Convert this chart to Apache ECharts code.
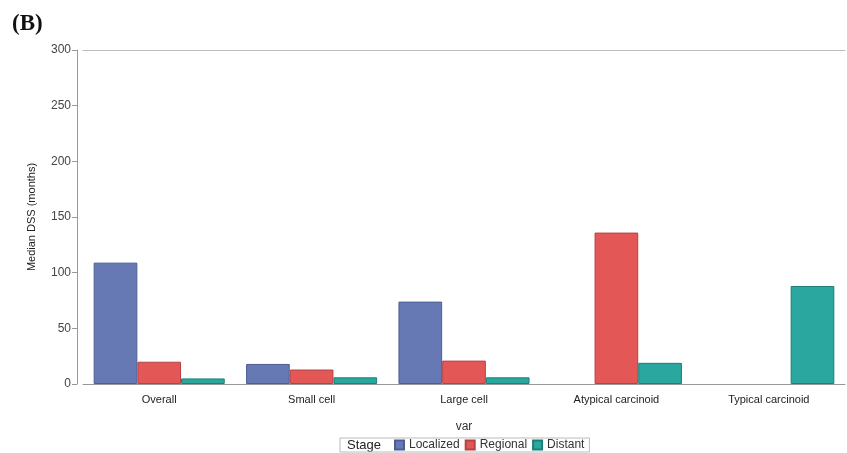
<!DOCTYPE html>
<html>
<head>
<meta charset="utf-8">
<script src="https://cdn.jsdelivr.net/npm/echarts@6/dist/echarts.min.js"></script>
<style>
  html, body { margin: 0; padding: 0; background: #fff; }
  #chart { width: 847px; height: 453px; }
</style>
</head>
<body>
<div id="chart"></div>
<script>
// categories and median DSS values (months)
const categories = ['Overall', 'Small cell', 'Large cell', 'Atypical carcinoid', 'Typical carcinoid']
const localized = [109, 18, 74, null, null]
const regional = [20, 13, 21, 136, null]
const distant = [5, 6, 6, 19, 88]
const yTicks = [0, 50, 100, 150, 200, 250, 300]

const chart = echarts.init(document.getElementById('chart'))

const font = 'Liberation Sans, Arial, sans-serif'

function barSeries(name, data, fill, edge) {
  return {
    name: name,
    type: 'bar',
    data: data,
    barGap: '0%',
    barCategoryGap: '14%',
    itemStyle: { color: fill, borderColor: edge, borderWidth: 1 },
    animation: false
  }
}

chart.setOption({
  textStyle: { fontFamily: font },
  grid: { left: 83, right: 2, top: 50, bottom: 69 },
  graphic: [
    {
      type: 'text', left: 12, top: 13,
      style: { text: '(B)', font: 'bold 23px "Liberation Serif", "Times New Roman", serif', fill: '#111' }
    },
    {
      type: 'text', left: 347, top: 439,
      style: { text: 'Stage', font: '13px ' + font, fill: '#222' }
    }
  ],
  legend: {
    left: 340, top: 438,
    padding: [1, 5, 1, 54],
    icon: 'rect',
    itemWidth: 9, itemHeight: 9, itemGap: 5,
    borderColor: '#bbb', borderWidth: 1,
    textStyle: { fontSize: 12, color: '#333' },
    data: ['Localized', 'Regional', 'Distant']
  },
  xAxis: [
    {
      type: 'category',
      data: categories,
      name: 'var',
      nameLocation: 'middle',
      nameGap: 37,
      nameTextStyle: { fontSize: 12, color: '#333' },
      axisLine: { lineStyle: { color: '#999' } },
      axisTick: { alignWithLabel: true, length: 4, lineStyle: { color: '#999' } },
      axisLabel: { fontSize: 11, color: '#222', margin: 10 }
    },
    {
      type: 'category',
      data: categories,
      position: 'top',
      axisLine: { lineStyle: { color: '#bbb' } },
      axisTick: { show: false },
      axisLabel: { show: false }
    }
  ],
  yAxis: {
    type: 'value',
    min: yTicks[0],
    max: yTicks[yTicks.length - 1],
    interval: yTicks[1] - yTicks[0],
    offset: 6,
    name: 'Median DSS (months)',
    nameLocation: 'middle',
    nameGap: 40,
    nameTextStyle: { fontSize: 11, color: '#222' },
    axisLine: { show: true, lineStyle: { color: '#999' } },
    axisTick: { show: true, length: 5, lineStyle: { color: '#999' } },
    axisLabel: { fontSize: 12, color: '#444', margin: 6 },
    splitLine: { show: false }
  },
  series: [
    barSeries('Localized', localized, '#6679b4', '#4d5d94'),
    barSeries('Regional', regional, '#e35757', '#b54343'),
    barSeries('Distant', distant, '#2aa79e', '#1f7f77')
  ]
})
</script>
</body>
</html>
